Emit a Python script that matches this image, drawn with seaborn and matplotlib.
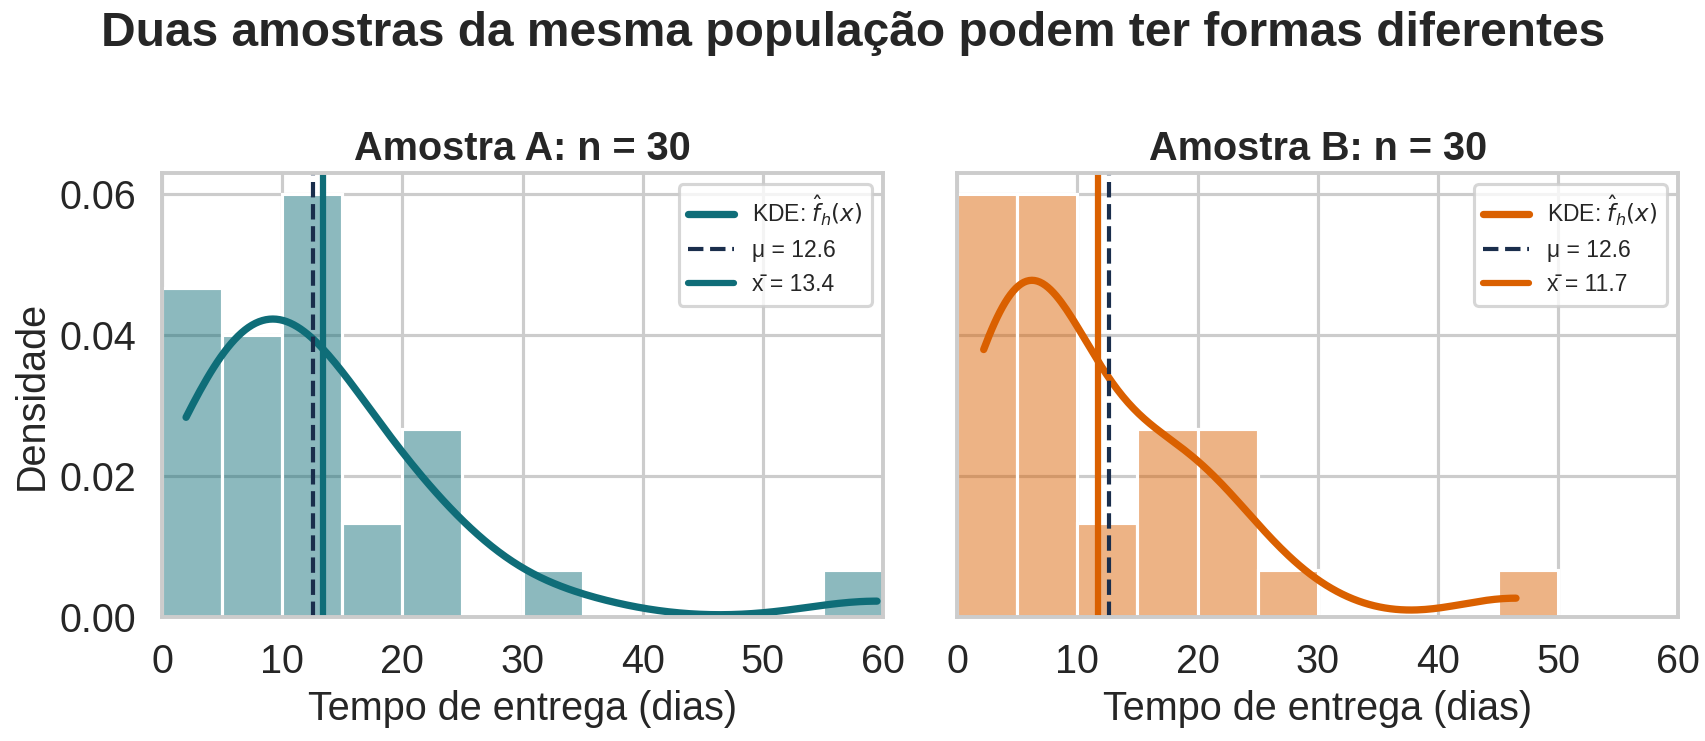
import numpy as np
import matplotlib.pyplot as plt
import seaborn as sns

# delivery times (days) for the two samples, n = 30 each
amostra_a = [2.0, 2.5, 3.1, 3.8, 4.2, 4.6, 4.9,
             5.5, 6.3, 7.2, 8.0, 8.8, 9.5,
             10.2, 10.8, 11.4, 12.0, 12.5, 13.1, 13.6, 14.2, 14.7,
             16.5, 19.4,
             20.8, 21.9, 23.0, 24.8,
             33.2,
             59.5]
amostra_b = [2.2, 2.7, 3.1, 3.5, 3.9, 4.2, 4.5, 4.7, 4.9,
             5.2, 5.6, 6.1, 6.6, 7.2, 7.8, 8.4, 9.0, 9.6,
             11.5, 13.8,
             15.3, 16.0, 16.8, 17.9,
             20.2, 20.9, 21.7, 23.0,
             28.2,
             46.5]
mu = 12.6
titulos = ["Amostra A: n = 30", "Amostra B: n = 30"]
cores = ["#0f6d78", "#da6000"]
cor_mu = "#1a2e4c"

sns.set_theme(style="whitegrid", context="talk")
plt.rcParams['font.family'] = ['Liberation Sans', 'DejaVu Sans']
plt.rcParams['mathtext.fontset'] = 'dejavusans'

fig, axes = plt.subplots(1, 2, figsize=(11.37, 4.94), dpi=150, sharey=True)
fig.subplots_adjust(left=0.095, right=0.984, top=0.767, bottom=0.167, wspace=0.103)

bins = np.arange(0, 65, 5)
for ax, dados, titulo, cor in zip(axes, [amostra_a, amostra_b], titulos, cores):
    media = np.mean(dados)
    sns.histplot(dados, bins=bins, stat="density", kde=True, color=cor,
                 alpha=0.48, edgecolor="white", linewidth=1.5, ax=ax,
                 line_kws=dict(linewidth=3.5, label=r"KDE: $\hat{f}_h(x)$"))
    ax.axvline(mu, color=cor_mu, linestyle="--", linewidth=2, label=f"μ = {mu:.1f}")
    ax.axvline(media, color=cor, linewidth=3, label=f"x\u0304 = {media:.1f}")
    ax.set_title(titulo, fontweight="bold", fontsize=19)
    ax.set_xlim(0, 60)
    ax.set_xlabel("Tempo de entrega (dias)", fontsize=19)
    ax.tick_params(labelsize=19)
    ax.legend(loc="upper right", fontsize=11)
    for s in ax.spines.values():
        s.set_visible(True)
        s.set_color("#cccccc")

axes[0].set_ylabel("Densidade", fontsize=19)
fig.suptitle("Duas amostras da mesma população podem ter formas diferentes",
             fontsize=23, fontweight="bold", y=0.985)

plt.savefig("out.png", dpi=150)
